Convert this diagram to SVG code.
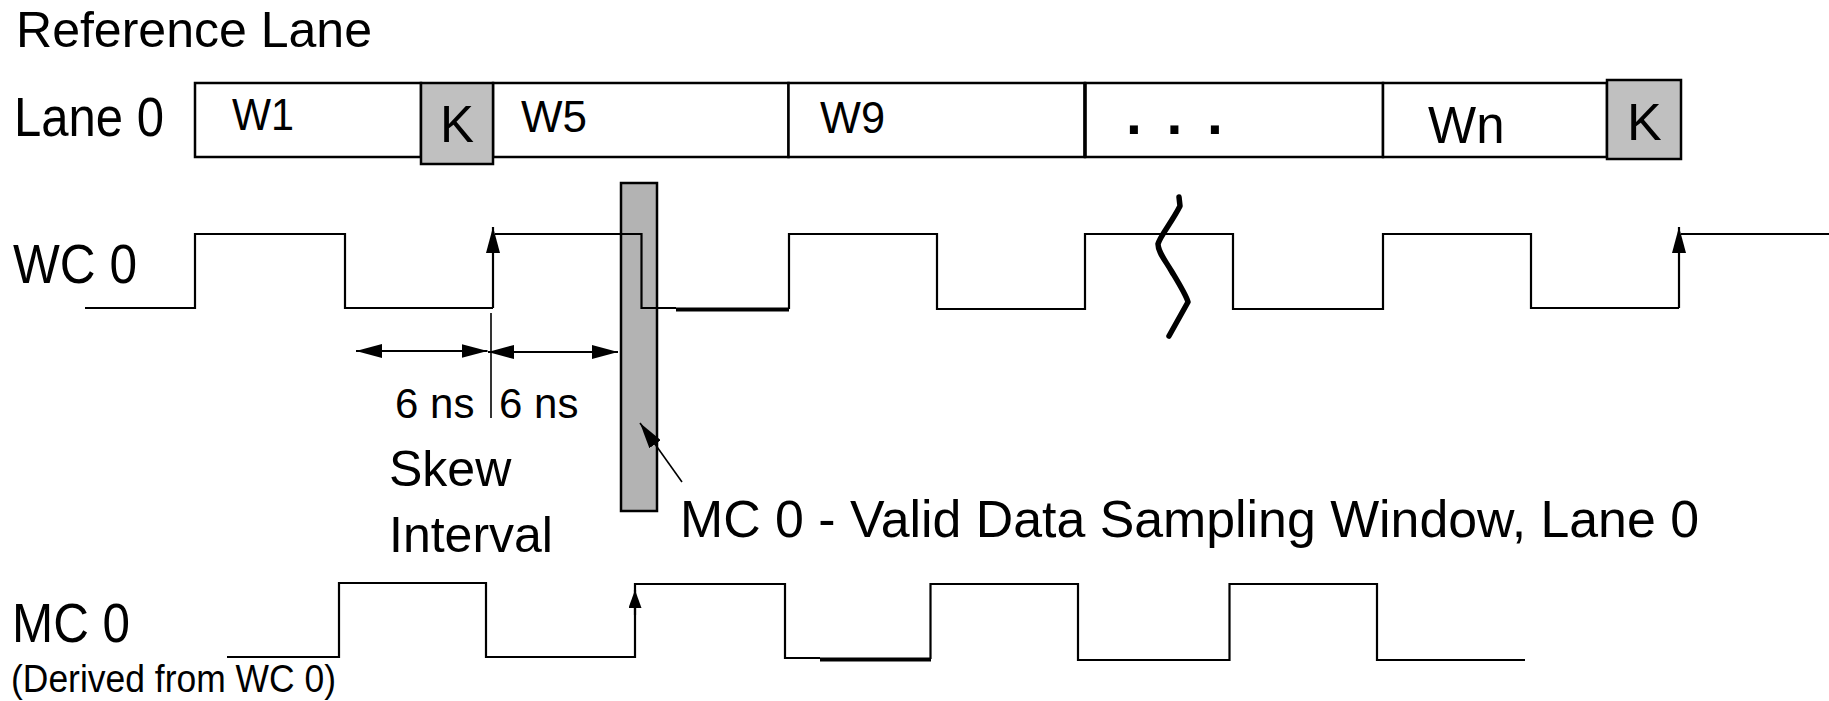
<svg xmlns="http://www.w3.org/2000/svg" width="1829" height="701" viewBox="0 0 1829 701">
<defs>
<style>
text{font-family:"Liberation Sans",Arial,Helvetica,sans-serif;fill:#000}
.cell{fill:#fff;stroke:#000;stroke-width:2.5}
.k{fill:#c0c0c0;stroke:#000;stroke-width:2.5}
.bar{fill:#b3b3b3;stroke:#000;stroke-width:2.5}
.wave{fill:none;stroke:#000;stroke-width:2.2}
.thick{fill:none;stroke:#000;stroke-width:4}
.thin{fill:none;stroke:#000;stroke-width:1.6}
.squig{fill:none;stroke:#000;stroke-width:5.5;stroke-linecap:round;stroke-linejoin:round}
</style>
<marker id="ah" markerUnits="userSpaceOnUse" viewBox="0 0 26 14" refX="26" refY="7" markerWidth="26" markerHeight="14" orient="auto-start-reverse"><path d="M0,0 L26,7 L0,14 z" fill="#000"/></marker>
<marker id="ahs" markerUnits="userSpaceOnUse" viewBox="0 0 18 13" refX="18" refY="6.5" markerWidth="18" markerHeight="13" orient="auto"><path d="M0,0 L18,6.5 L0,13 z" fill="#000"/></marker>
</defs>
<rect x="0" y="0" width="1829" height="701" fill="#fff"/>

<g id="title"><text x="16" y="47" font-size="50" textLength="356" lengthAdjust="spacingAndGlyphs">Reference Lane</text></g>
<g id="label-lane0"><text x="14" y="136" font-size="55" textLength="150" lengthAdjust="spacingAndGlyphs">Lane 0</text></g>
<g id="label-wc0"><text x="13" y="283" font-size="55" textLength="124" lengthAdjust="spacingAndGlyphs">WC 0</text></g>
<g id="label-mc0"><text x="12" y="642" font-size="55" textLength="118" lengthAdjust="spacingAndGlyphs">MC 0</text><text x="11" y="692" font-size="38" textLength="325" lengthAdjust="spacingAndGlyphs">(Derived from WC 0)</text></g>

<g id="cell-w1"><rect class="cell" x="195" y="83" width="226" height="74"/><text x="232" y="130" font-size="44" textLength="62" lengthAdjust="spacingAndGlyphs">W1</text></g>
<g id="cell-w5"><rect class="cell" x="493" y="83" width="295.5" height="74"/><text x="521" y="132" font-size="45" textLength="66" lengthAdjust="spacingAndGlyphs">W5</text></g>
<g id="cell-w9"><rect class="cell" x="788.5" y="83" width="296.5" height="74"/><text x="820" y="133" font-size="45" textLength="65" lengthAdjust="spacingAndGlyphs">W9</text></g>
<g id="cell-dots"><rect class="cell" x="1085" y="83" width="298" height="74"/><line x1="1085" y1="83" x2="1085" y2="157" stroke="#000" stroke-width="3.5"/><text x="1126" y="134" font-size="57" font-weight="bold" letter-spacing="4.4">. . .</text></g>
<g id="cell-wn"><rect class="cell" x="1383" y="83" width="224" height="74"/><text x="1428" y="143" font-size="51">Wn</text></g>
<g id="cell-k1"><rect class="k" x="421" y="83" width="72" height="81"/><text x="440" y="142" font-size="51">K</text></g>
<g id="cell-k2"><rect class="k" x="1607" y="80" width="74" height="79"/><text x="1627" y="140" font-size="52">K</text></g>

<g id="sampling-window"><rect class="bar" x="621" y="183" width="36" height="328"/></g>

<g id="connectors">
<path class="wave" d="M85,308 H195 V234 H345 V308 H493"/>
<path class="wave" d="M493,308 V227" marker-end="url(#ah)"/>
<path class="wave" d="M495,234 H641.5 V308 H676"/>
<path class="thick" d="M676,309.5 H789"/>
<path class="wave" d="M789,309 V234 H937 V309 H1085 V234 H1233 V309 H1383 V234 H1531 V308 H1679"/>
<path class="wave" d="M1679,308 V227" marker-end="url(#ah)"/>
<path class="wave" d="M1681,234 H1829"/>
<path class="squig" d="M1179,197 L1180,206 C1172,222 1160,236 1158,244 C1158,252 1165,260 1172,272 C1181,287 1186,295 1188,302 L1169,336"/>
<path class="wave" d="M356,351 H487.5" marker-start="url(#ah)" marker-end="url(#ah)"/>
<path class="wave" d="M488,352 H618" marker-start="url(#ah)" marker-end="url(#ah)"/>
<path class="thin" d="M491,313 V418"/>
<path class="thin" d="M682,482 L640,423" marker-end="url(#ah)"/>
<path class="wave" d="M227,657 H339 V583 H486 V657 H635 V584 H785 V658 H820"/>
<path class="thick" d="M820,659.5 H931"/>
<path class="wave" d="M930.5,659 V584 H1078 V660 H1229.5 V584 H1377 V660 H1525"/>
<path class="wave" d="M635,615 V590" marker-end="url(#ahs)"/>
</g>

<g id="label-skew"><text x="395" y="418" font-size="42">6 ns</text><text x="499" y="418" font-size="42">6 ns</text><text x="389" y="486" font-size="50">Skew</text><text x="389" y="552" font-size="50">Interval</text></g>
<g id="label-window"><text x="680" y="537" font-size="52" textLength="1019" lengthAdjust="spacingAndGlyphs">MC 0 - Valid Data Sampling Window, Lane 0</text></g>
</svg>
